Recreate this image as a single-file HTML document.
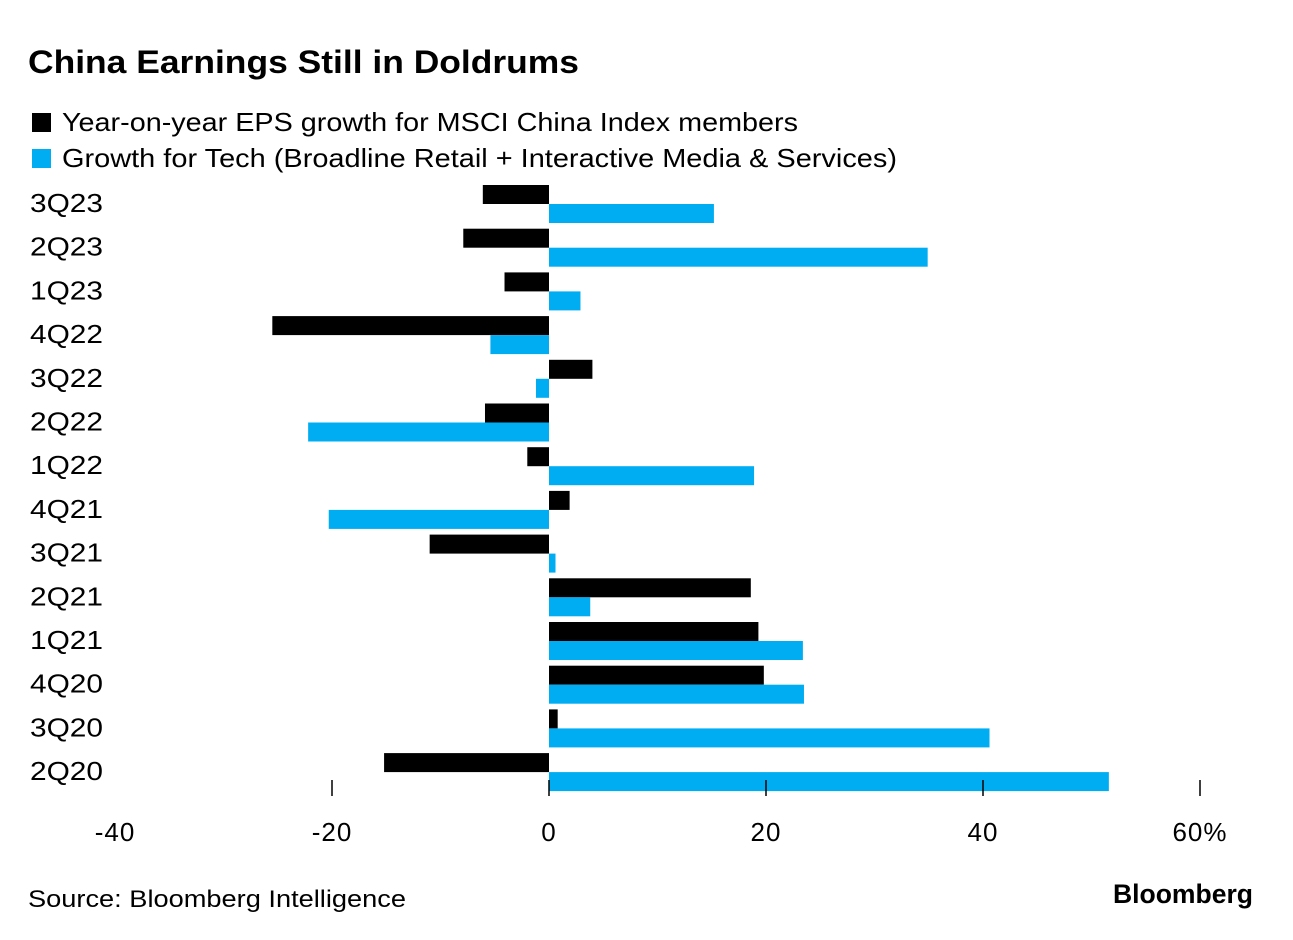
<!DOCTYPE html>
<html><head><meta charset="utf-8">
<style>
body{margin:0;background:#fff;width:1293px;height:940px;overflow:hidden;font-family:"Liberation Sans",sans-serif;}
svg{display:block}
</style></head>
<body>
<svg id="chart" width="1293" height="940">
<text x="28" y="73" font-size="32" font-weight="bold" fill="#000" textLength="551" lengthAdjust="spacingAndGlyphs">China Earnings Still in Doldrums</text>
<g>
<rect x="32" y="113" width="19" height="19" fill="#000"/>
<text x="62" y="131" font-size="26" fill="#000" textLength="736" lengthAdjust="spacingAndGlyphs">Year-on-year EPS growth for MSCI China Index members</text>
<rect x="32" y="149" width="19" height="19" fill="#00adf2"/>
<text x="62" y="167" font-size="26" fill="#000" textLength="835" lengthAdjust="spacingAndGlyphs">Growth for Tech (Broadline Retail + Interactive Media &amp; Services)</text>
</g>
<g id="bars"></g>
<g id="axis"></g>
<text x="28" y="907" font-size="24" fill="#000" textLength="378" lengthAdjust="spacingAndGlyphs">Source: Bloomberg Intelligence</text>
<text x="1113" y="903" font-size="27" font-weight="bold" fill="#000" textLength="140" lengthAdjust="spacingAndGlyphs">Bloomberg</text>
</svg>
<script>
const categories=["3Q23","2Q23","1Q23","4Q22","3Q22","2Q22","1Q22","4Q21","3Q21","2Q21","1Q21","4Q20","3Q20","2Q20"];
const msciValues=[-6.1,-7.9,-4.1,-25.5,4.0,-5.9,-2.0,1.9,-11.0,18.6,19.3,19.8,0.8,-15.2];
const techValues=[15.2,34.9,2.9,-5.4,-1.2,-22.2,18.9,-20.3,0.6,3.8,23.4,23.5,40.6,51.6];
const tickValues=[-40,-20,0,20,40,60];
const tickLabels=["-40","-20","0","20","40","60%"];
const NS="http://www.w3.org/2000/svg";
function xScale(v){return 549+v*10.85;}
function yRow(i){return 185+i*43.7;}
const bars=document.getElementById('bars');
const axis=document.getElementById('axis');
function bar(v,y,color,name){
  const r=document.createElementNS(NS,'rect');
  const x0=xScale(0),x1=xScale(v);
  r.setAttribute('x',Math.min(x0,x1));r.setAttribute('y',y);
  r.setAttribute('width',Math.abs(x1-x0));r.setAttribute('height',19);
  r.setAttribute('fill',color);
  
  
  bars.appendChild(r);
}
categories.forEach((c,i)=>{
  const y=yRow(i);
  bar(msciValues[i],y,'#000','bar-msci-'+c.toLowerCase());
  bar(techValues[i],y+19,'#00adf2','bar-tech-'+c.toLowerCase());
  const t=document.createElementNS(NS,'text');
  t.setAttribute('x',30);t.setAttribute('y',y+27);
  t.setAttribute('font-size','26');
  t.setAttribute('textLength','73');t.setAttribute('lengthAdjust','spacingAndGlyphs');
  t.textContent=c;
  
  
  axis.appendChild(t);
});
tickValues.forEach((v,i)=>{
  const x=xScale(v);
  if(v!==-40){
    const l=document.createElementNS(NS,'line');
    l.setAttribute('x1',x);l.setAttribute('x2',x);
    l.setAttribute('y1',780);l.setAttribute('y2',796);
    l.setAttribute('stroke','#000');l.setAttribute('stroke-width','1.5');
    
    
    axis.appendChild(l);
  }
  const t=document.createElementNS(NS,'text');
  t.setAttribute('x',x);t.setAttribute('y',841);
  t.setAttribute('text-anchor','middle');t.setAttribute('font-size','26');
  t.setAttribute('letter-spacing','1');
  t.textContent=tickLabels[i];
  
  
  axis.appendChild(t);
});
</script>
</body></html>
